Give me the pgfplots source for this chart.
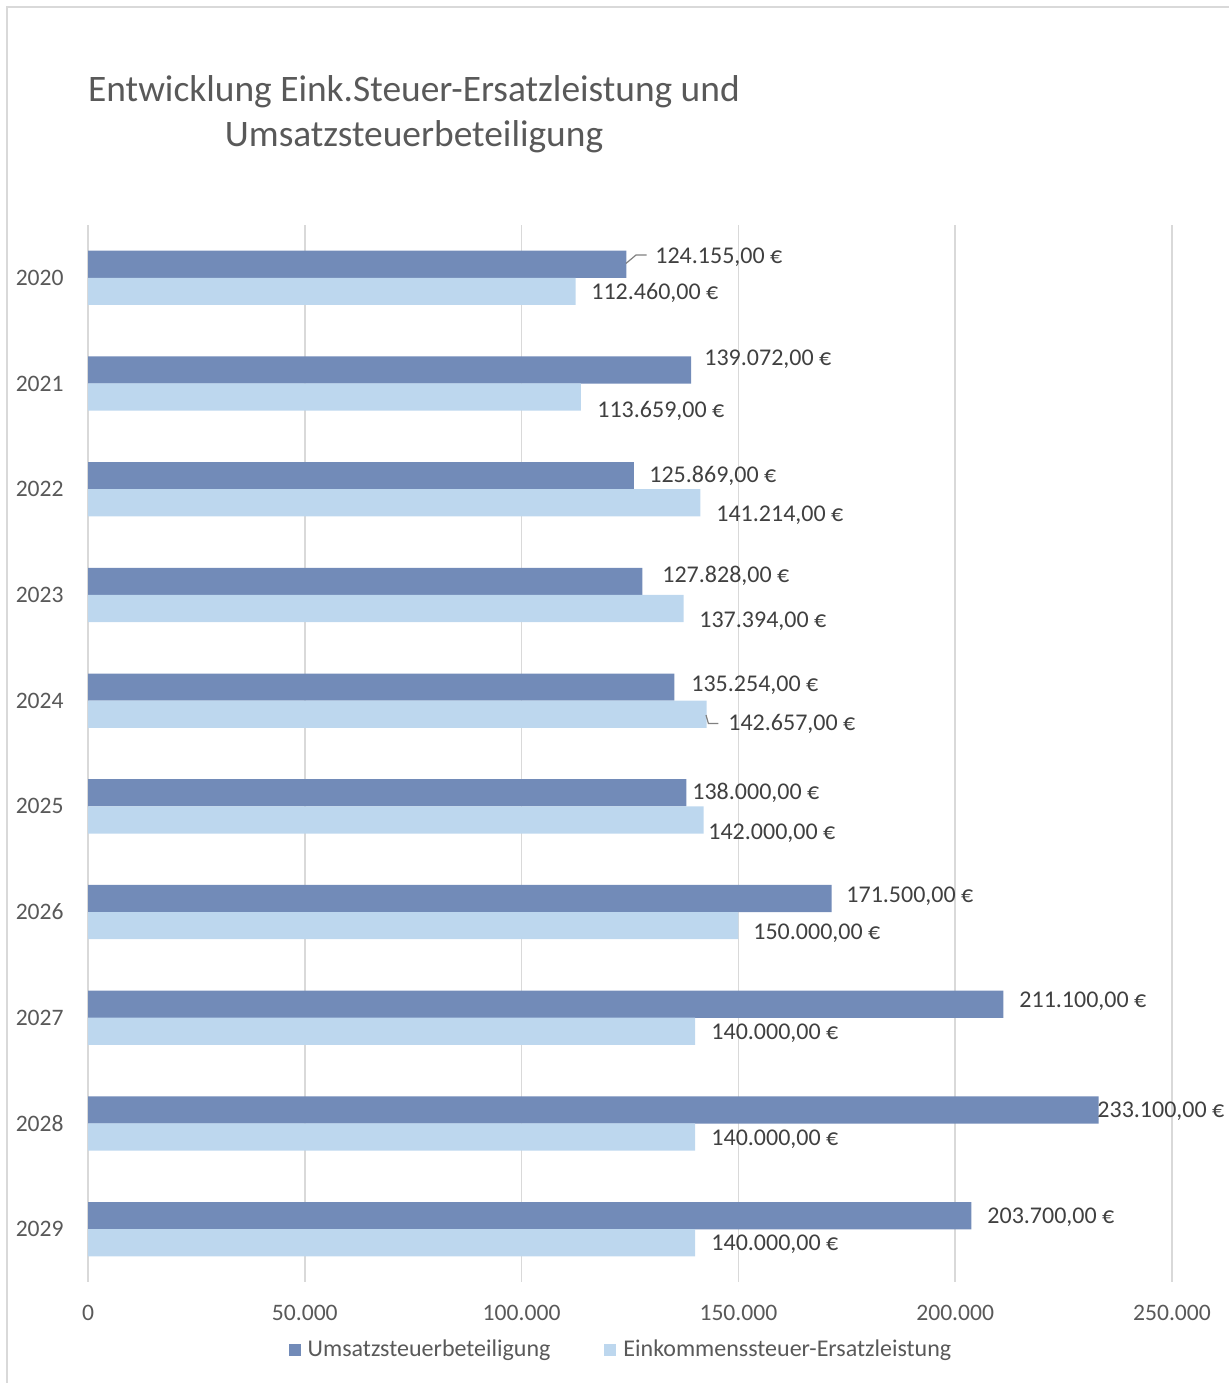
\documentclass[border=0pt]{standalone}
\usepackage{fontspec}
\setmainfont{Carlito}
\usepackage{pgfplots}
\usepackage{pgfplotstable}
\pgfplotsset{compat=1.18}

\definecolor{ust}{HTML}{728BB8}
\definecolor{est}{HTML}{BDD7EE}
\definecolor{lbl}{HTML}{404040}
\definecolor{tck}{HTML}{595959}
\definecolor{gridc}{HTML}{D9D9D9}

% y = category position (0 = 2020), lx/ly = where the value label starts
\pgfplotstableread{
y value lbl lx ly
-0.128 124155 124.155,00 130767 -0.199
0.872 139072 139.072,00 142066 0.766
1.872 125869 125.869,00 129384 1.874
2.872 127828 127.828,00 132380 2.820
3.872 135254 135.254,00 139070 3.851
4.872 138000 138.000,00 139301 4.873
5.872 171500 171.500,00 174818 5.847
6.872 211100 211.100,00 214718 6.840
7.872 233100 233.100,00 232706 7.881
8.872 203700 203.700,00 207336 8.884
}\ustdata

\pgfplotstableread{
y value lbl lx ly
0.128 112460 112.460,00 116007 0.142
1.128 113659 113.659,00 117391 1.258
2.128 141214 141.214,00 144836 2.242
3.128 137394 137.394,00 140915 3.245
4.128 142657 142.657,00 147603 4.220
5.128 142000 142.000,00 142991 5.251
6.128 150000 150.000,00 153369 6.197
7.128 140000 140.000,00 143683 7.143
8.128 140000 140.000,00 143683 8.146
9.128 140000 140.000,00 143683 9.139
}\estdata

\pgfplotsset{
  sq legend/.style={legend image code/.code={\fill[##1] (0pt,-3pt) rectangle (6pt,3pt);}},
  eurolabels/.style={
    draw=none, mark=none, forget plot,
    point meta=explicit symbolic,
    nodes near coords={\pgfplotspointmeta~€},
    every node near coord/.append style={anchor=west, inner sep=0pt, text=lbl,
      font=\fontsize{12}{14}\selectfont},
  },
}

\begin{document}
\begin{tikzpicture}
\path[use as bounding box] (0,0) rectangle (614.5pt,-691.5pt);
\draw[gridc, line width=0.8pt] (3.5pt,-3.5pt) rectangle (700pt,-700pt);

\node[align=center, text=tck, font=\fontsize{18.7}{22.5}\selectfont] at (207pt,-57.25pt)
  {Entwicklung Eink.Steuer-Ersatzleistung und\\Umsatzsteuerbeteiligung};

\begin{axis}[
  at={(44pt,-641pt)}, anchor=south west,
  scale only axis, width=542pt, height=528.5pt,
  xmin=0, xmax=250000, ymin=-0.5, ymax=9.5, y dir=reverse,
  xtick={0,50000,100000,150000,200000,250000},
  xticklabels={0,50.000,100.000,150.000,200.000,250.000},
  scaled x ticks=false,
  ytick={0,1,2,3,4,5,6,7,8,9},
  yticklabels={2020,2021,2022,2023,2024,2025,2026,2027,2028,2029},
  xmajorgrids, ymajorgrids=false,
  grid style={draw=gridc, line width=0.75pt},
  axis line style={draw=none},
  major tick length=0pt,
  tick label style={font=\fontsize{11.8}{14}\selectfont, text=tck},
  yticklabel style={anchor=east, inner sep=0pt, xshift=-12pt},
  xticklabel style={anchor=north, inner sep=0pt, yshift=-11.3pt},
  legend style={at={(0.4926,-0.0644)}, anchor=center, draw=none, fill=none,
    legend columns=2, font=\fontsize{12}{14}\selectfont, text=tck,
    /tikz/every odd column/.append style={column sep=1.5pt},
    /tikz/every even column/.append style={column sep=25pt}},
  clip=false,
]
\addplot[xbar, bar width=13.6pt, bar shift=0pt, fill=ust, draw=none, sq legend]
  table[x=value, y=y] {\ustdata};
\addplot[xbar, bar width=13.6pt, bar shift=0pt, fill=est, draw=none, sq legend]
  table[x=value, y=y] {\estdata};
\legend{Umsatzsteuerbeteiligung, Einkommenssteuer-Ersatzleistung}
\addplot[eurolabels] table[x=lx, y=ly, meta=lbl] {\ustdata};
\addplot[eurolabels] table[x=lx, y=ly, meta=lbl] {\estdata};
\end{axis}

% leader lines
\draw[gray, line width=0.6pt] (313pt,-131.7pt) -- (318pt,-127.5pt) -- (323.3pt,-127.5pt);
\draw[gray, line width=0.6pt] (353pt,-357.5pt) -- (354.2pt,-361.7pt) -- (359.2pt,-361.7pt);
\end{tikzpicture}
\end{document}
